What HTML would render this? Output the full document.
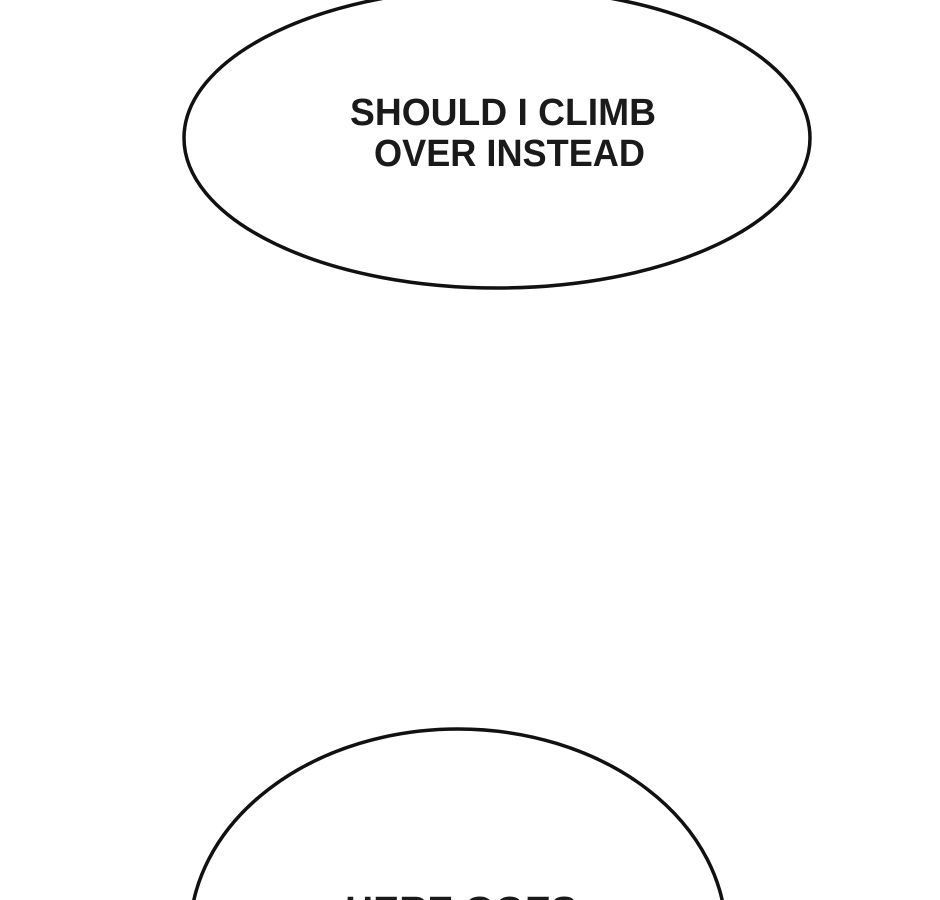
<!DOCTYPE html>
<html><head><meta charset="utf-8"><style>
html,body{margin:0;padding:0;background:#fff;width:940px;height:900px;overflow:hidden;}
svg{display:block;}
</style></head><body>
<svg width="940" height="900" viewBox="0 0 940 900" xmlns="http://www.w3.org/2000/svg" overflow="hidden">
<rect width="940" height="900" fill="#fff"/>
<ellipse cx="497" cy="138" rx="313" ry="150" fill="#fff" stroke="#111" stroke-width="3.5"/>
<text x="350" y="125" font-family="Liberation Sans, sans-serif" font-weight="bold" font-size="38" fill="#1a1a1a" textLength="306" lengthAdjust="spacingAndGlyphs">SHOULD I CLIMB</text>
<text x="374" y="166" font-family="Liberation Sans, sans-serif" font-weight="bold" font-size="38" fill="#1a1a1a" textLength="271" lengthAdjust="spacingAndGlyphs">OVER INSTEAD</text>
<ellipse cx="458" cy="935" rx="268" ry="206" fill="#fff" stroke="#111" stroke-width="3.5"/>
<text x="345" y="923" font-family="Liberation Sans, sans-serif" font-weight="bold" font-size="38" fill="#1a1a1a" textLength="232" lengthAdjust="spacingAndGlyphs">HERE GOES</text>
</svg>
</body></html>
